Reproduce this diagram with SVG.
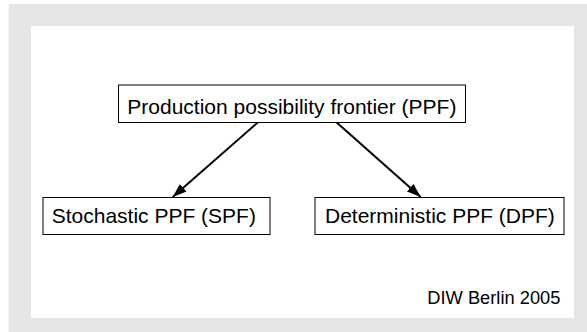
<svg xmlns="http://www.w3.org/2000/svg" width="587" height="332" viewBox="0 0 587 332">
<style>
.box{fill:#fff;stroke:#000;stroke-width:1}
.t{font-family:"Liberation Sans",Arial,sans-serif;font-size:21px;fill:#000}
.c{stroke:#000;stroke-width:2;fill:none}
</style>
<defs>
<marker id="ah" viewBox="0 0 14 10" refX="14" refY="5" markerWidth="14" markerHeight="10" markerUnits="userSpaceOnUse" orient="auto">
<path d="M0,0 L14,5 L0,10 z" fill="#000"/>
</marker>
</defs>
<rect x="8.7" y="4" width="578.3" height="328" fill="#e5e5e5"/>
<rect x="31" y="26" width="543" height="292" fill="#fff"/>
<g id="connectors">
<line class="c" x1="257.7" y1="122.5" x2="172.7" y2="197" marker-end="url(#ah)"/>
<line class="c" x1="336.7" y1="122.5" x2="420.7" y2="197" marker-end="url(#ah)"/>
</g>
<g id="ppf">
<rect class="box" x="118.5" y="85" width="347" height="37.5"/>
<text class="t" x="127.3" y="114.3">Production possibility frontier (PPF)</text>
</g>
<g id="spf">
<rect class="box" x="43" y="197.5" width="227" height="37"/>
<text class="t" x="51.7" y="222.7">Stochastic PPF (SPF)</text>
</g>
<g id="dpf">
<rect class="box" x="315" y="197.5" width="249" height="37"/>
<text class="t" x="325" y="222.7">Deterministic PPF (DPF)</text>
</g>
<text class="t" x="427.3" y="304.3" style="font-size:18.3px">DIW Berlin 2005</text>
</svg>
